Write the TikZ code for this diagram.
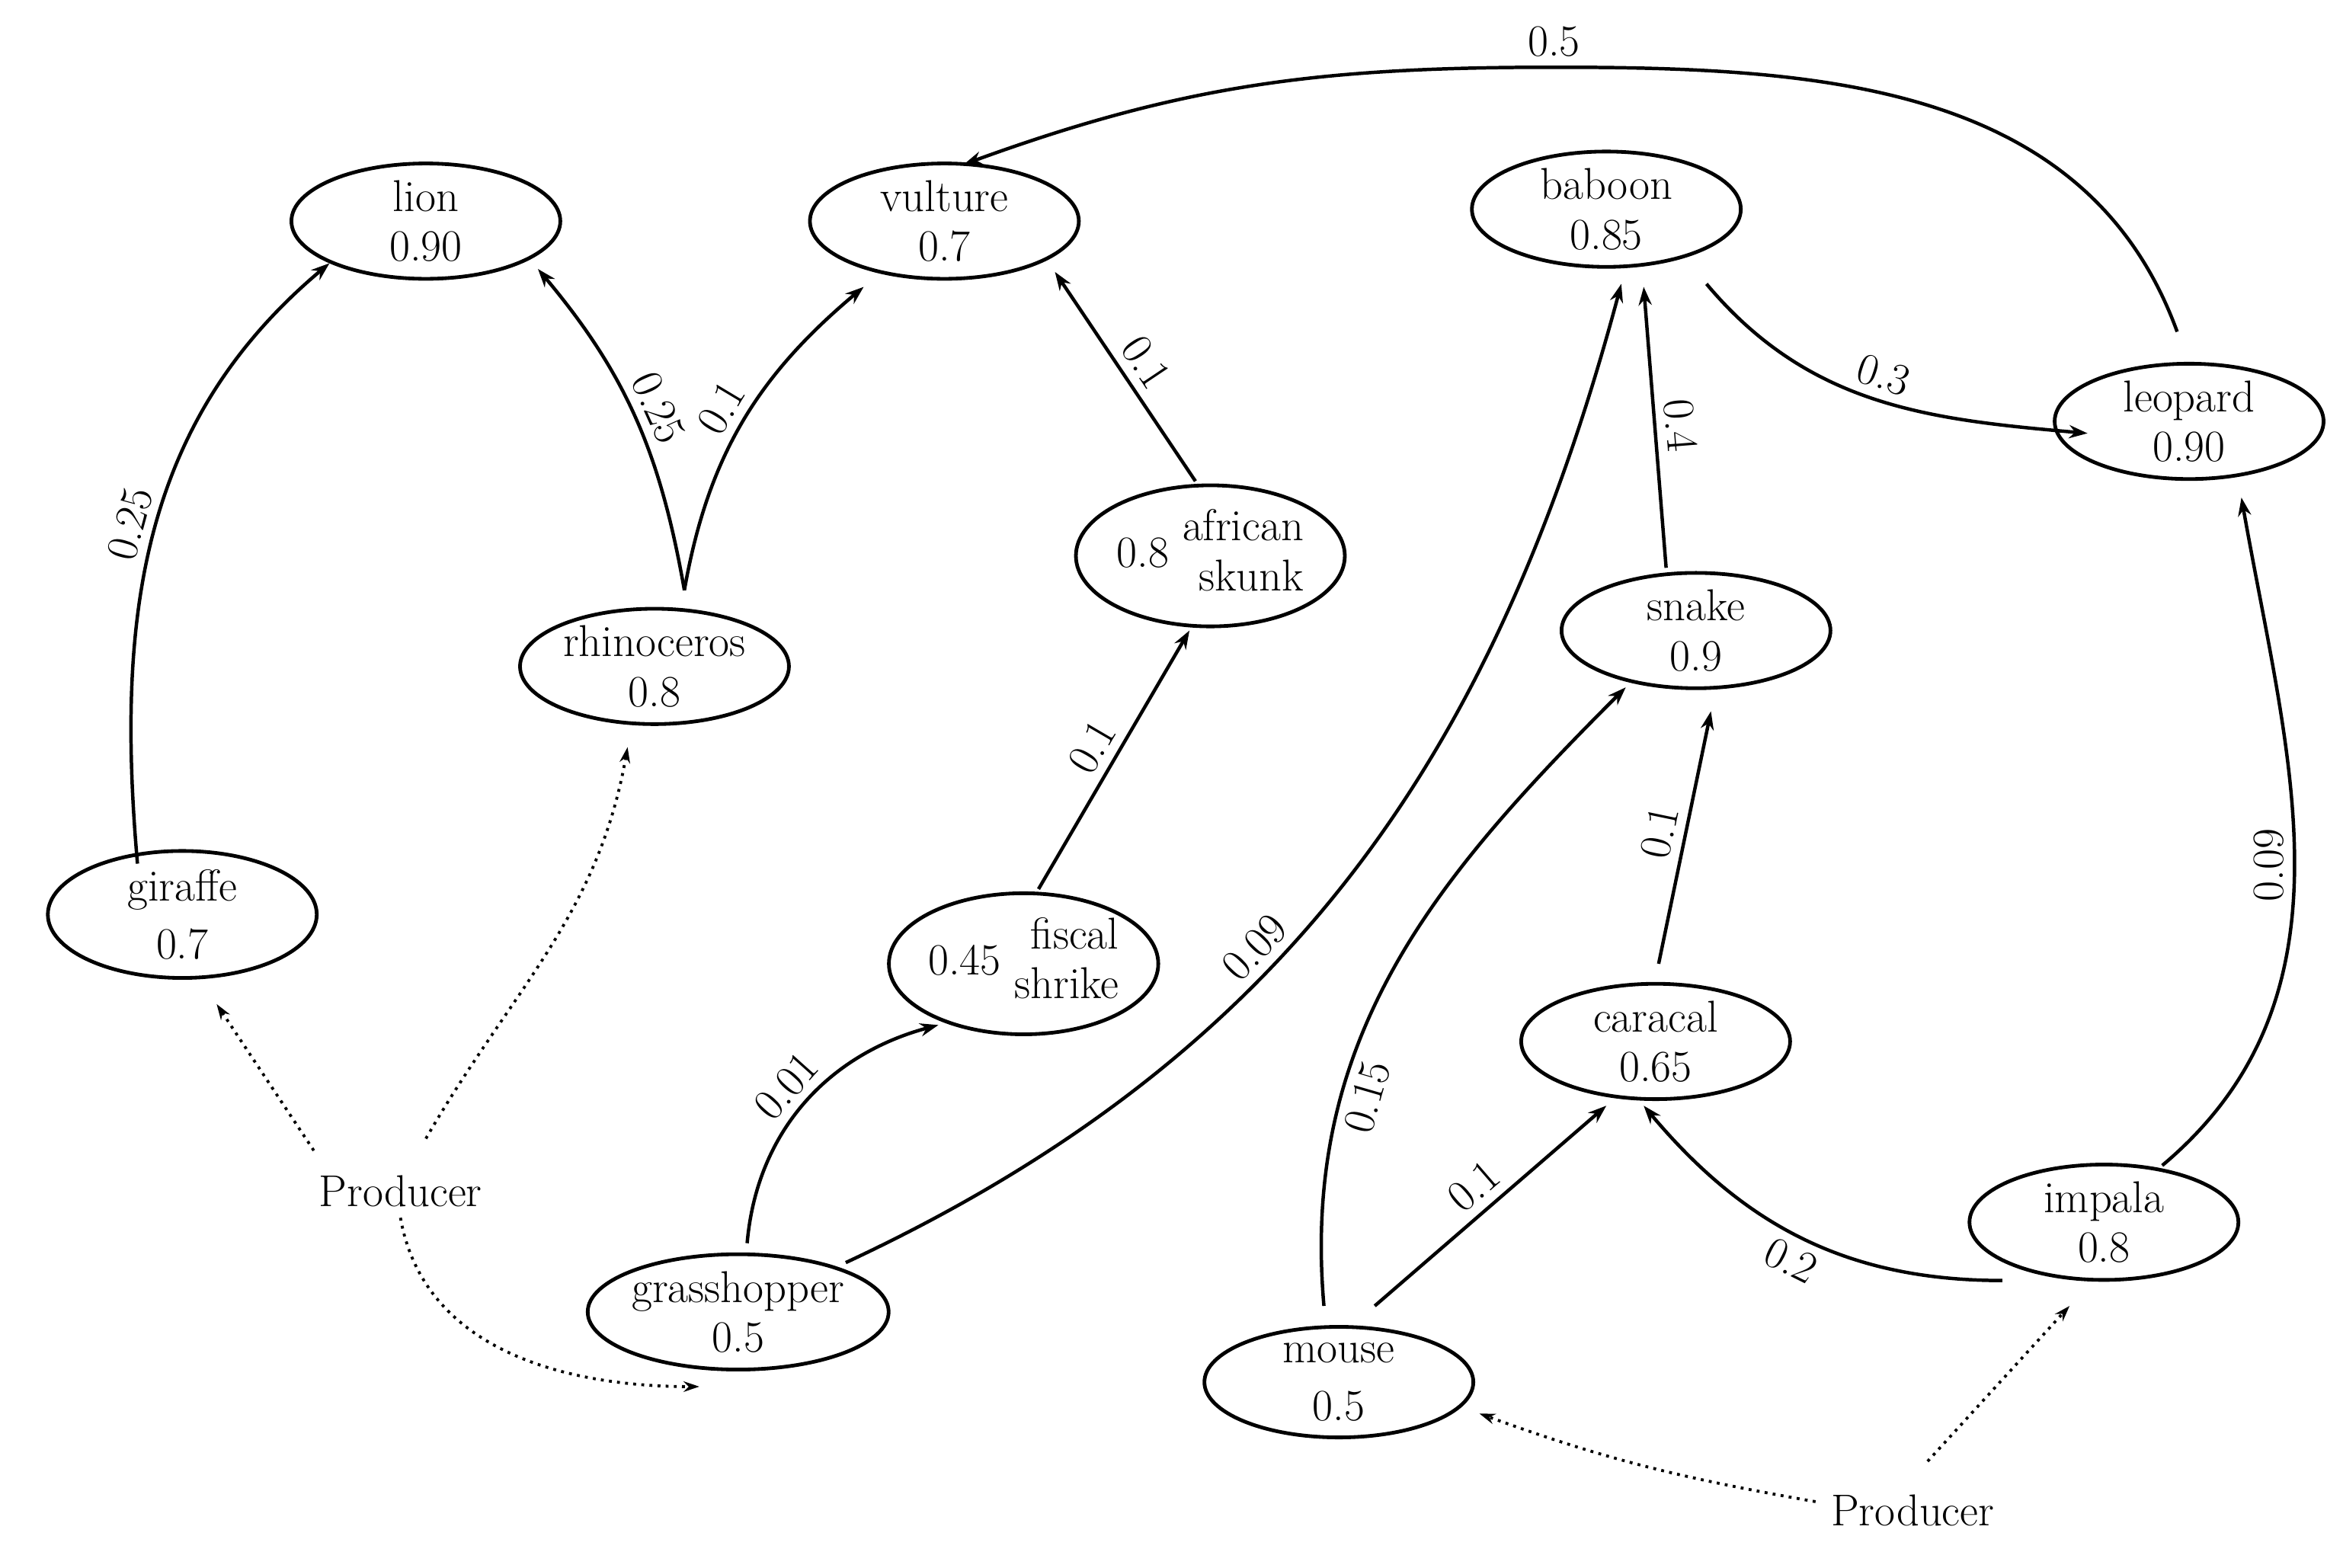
\documentclass[tikz,border=0pt]{standalone}
\usetikzlibrary{arrows.meta,shapes.geometric}
\begin{document}
\begin{tikzpicture}[x=0.02cm,y=-0.02cm,
  every node/.style={font=\fontsize{17}{19}\selectfont},
  st/.style={draw,ellipse,line width=1.4pt,minimum width=3.6cm,minimum height=1.4cm,inner sep=0pt,align=center},
  ar/.style={line width=1.3pt,-{Stealth[length=7pt,width=5pt]}},
  dt/.style={line width=1.1pt,dotted,-{Stealth[length=6pt,width=4pt]}},
  lb/.style={midway,sloped,above}]
\path[use as bounding box] (0,0) rectangle (1568,1049);
\node[st] (lion) at (285,148) {lion\\0.90};
\node[st] (vult) at (632,148) {vulture\\0.7};
\node[st] (bab) at (1075,140) {baboon\\0.85};
\node[st] (leo) at (1465,282) {leopard\\0.90};
\node[st] (sku) at (810,372) {0.8 \begin{tabular}{@{}r@{}}african\\skunk\end{tabular}};
\node[st] (rhi) at (438,446) {rhinoceros\\0.8};
\node[st] (sna) at (1135,422) {snake\\0.9};
\node[st] (gir) at (122,612) {giraffe\\[3pt]0.7};
\node[st] (fis) at (685,645) {0.45 \begin{tabular}{@{}r@{}}fiscal\\shrike\end{tabular}};
\node[st] (car) at (1108,697) {caracal\\0.65};
\node[st] (imp) at (1408,818) {impala\\0.8};
\node[st] (gra) at (494,878) {grasshopper\\0.5};
\node[st] (mou) at (896,925) {mouse\\[3pt]0.5};
\node (p1) at (268,797) {Producer};
\node (p2) at (1280,1011) {Producer};
\coordinate (a1) at (92,578);
\coordinate (a2) at (458,395);
\draw[ar] (a1) to[out=95,in=-140] node[lb]{0.25} (lion.south west);
\draw[ar] (a2) to[out=100,in=-50] node[lb]{0.25} (360,180);
\draw[ar] (a2) to[out=80,in=-140] node[lb]{0.1} (578,192);
\draw[ar] (800,322) -- node[lb]{0.1} (706,182);
\draw[ar] (695,595) -- node[lb]{0.1} (796,422);
\draw[ar] (500,832) to[out=85,in=-165] node[lb]{0.01} (628,686);
\draw[ar] (566,845) to[out=25,in=-105] node[lb,pos=0.4]{0.09} (1085,190);
\draw[ar] (1115,380) -- node[lb]{0.4} (1100,192);
\draw[ar] (1110,645) -- node[lb]{0.1} (1145,476);
\draw[ar] (886,874) to[out=95,in=-135] node[lb,below,pos=0.3]{0.15} (1088,460);
\draw[ar] (920,874) -- node[lb]{0.1} (1075,740);
\draw[ar] (1340,857) to[out=180,in=-50] node[lb,below]{0.2} (1100,740);
\draw[ar] (1447,780) to[out=40,in=-80] node[lb]{0.09} (1500,333);
\draw[ar] (1142,190) to[out=-50,in=175] node[lb]{0.3} (1397,290);
\draw[ar] (1457,222) to[out=110,in=0] (1040,45) node[above]{0.5} to[out=180,in=20] (645,110);
\draw[dt] (285,762) to[out=60,in=-100] (420,500);
\draw[dt] (210,770) -- (145,672);
\draw[dt] (268,815) to[out=-80,in=180] (468,928);
\draw[dt] (1215,1005) to[out=170,in=-20] (990,946);
\draw[dt] (1290,978) -- (1385,874);
\end{tikzpicture}
\end{document}
